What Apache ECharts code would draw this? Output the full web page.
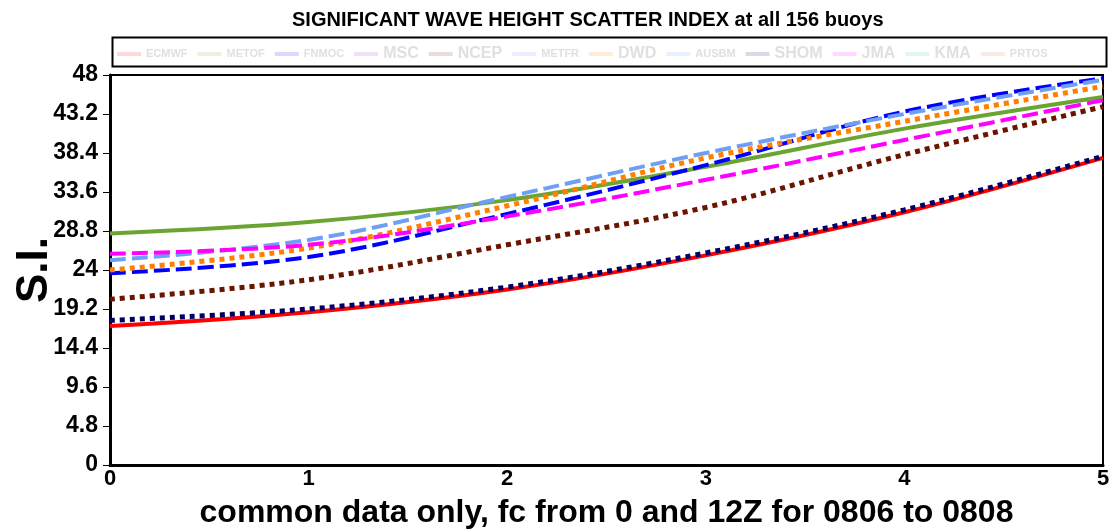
<!DOCTYPE html>
<html>
<head>
<meta charset="utf-8">
<script src="https://cdn.jsdelivr.net/npm/echarts@6/dist/echarts.min.js"></script>
<style>html,body{margin:0;padding:0;background:#fff}</style>
</head>
<body>
<div id="chart" style="width:1109px;height:532px"></div>
<script>
// forecast step (x) and scatter index per centre
const steps = [0, 1, 2, 3, 4, 5]
const ecmwf = [17.1, 18.8, 21.6, 25.8, 31.1, 37.8]
const metof = [28.5, 29.9, 32.6, 36.7, 41.4, 45.3]
const fnmoc = [23.6, 25.6, 30.9, 36.9, 43.5, 47.6]
const msc = []
const ncep = [20.4, 22.8, 27.1, 31.7, 38.2, 44.1]
const metfr = []
const dwd = [24.0, 26.7, 31.9, 37.8, 42.3, 46.6]
const ausbm = [25.2, 27.7, 33.0, 38.4, 43.2, 47.4]
const shom = [17.8, 19.2, 21.9, 26.1, 31.4, 38.0]
const jma = [26.0, 27.1, 30.6, 35.1, 40.0, 44.9]
const kma = []
const prtos = []

const bigNames = ['MSC', 'NCEP', 'DWD', 'SHOM', 'JMA', 'KMA']
const dot = [5, 5], dash = [16, 6]
const defs = [
  ['ECMWF', ecmwf, '#ff0000', 'solid', 4],
  ['METOF', metof, '#6aa534', 'solid', 4],
  ['FNMOC', fnmoc, '#0000ff', dash, 4],
  ['MSC', msc, '#9933cc', dash, 4],
  ['NCEP', ncep, '#6b1400', dot, 5],
  ['METFR', metfr, '#9977ff', dash, 4],
  ['DWD', dwd, '#ff8000', dot, 5],
  ['AUSBM', ausbm, '#6f9ef5', dash, 4],
  ['SHOM', shom, '#000066', dot, 5],
  ['JMA', jma, '#ff00ff', dash, 4],
  ['KMA', kma, '#33ccaa', dot, 5],
  ['PRTOS', prtos, '#cc7744', dash, 4]
]

const chart = echarts.init(document.getElementById('chart'))
chart.setOption({
  animation: false,
  title: {
    text: 'SIGNIFICANT WAVE HEIGHT SCATTER INDEX at all 156 buoys',
    left: 287, top: 5,
    textStyle: { fontFamily: 'Liberation Sans', fontWeight: 'bold', fontSize: 20, color: '#000' }
  },
  graphic: [{
    type: 'rect', left: 110, top: 35,
    shape: { width: 994, height: 29 },
    style: { fill: 'none', stroke: '#000', lineWidth: 2 }
  }],
  legend: {
    left: 112, top: 41, itemGap: 10, itemWidth: 24, itemHeight: 4, icon: 'rect',
    itemStyle: { opacity: 0.15 },
    formatter: n => bigNames.includes(n) ? `{b|${n}}` : `{s|${n}}`,
    textStyle: {
      color: '#e0e0e0', fontFamily: 'Liberation Sans', fontWeight: 'bold',
      rich: {
        b: { fontSize: 16, fontWeight: 'bold', color: '#e0e0e0', fontFamily: 'Liberation Sans' },
        s: { fontSize: 11, fontWeight: 'bold', color: '#e0e0e0', fontFamily: 'Liberation Sans' }
      }
    },
    data: defs.map(d => d[0])
  },
  grid: {
    left: 110, right: 6, top: 75, bottom: 67, outerBoundsMode: 'none',
    show: true, borderColor: '#000', borderWidth: 2
  },
  xAxis: {
    type: 'value', min: 0, max: 5, interval: 1,
    name: 'common data only, fc from 0 and 12Z for 0806 to 0808',
    nameLocation: 'middle', nameGap: 32, nameMoveOverlap: false,
    nameTextStyle: { fontFamily: 'Liberation Sans', fontWeight: 'bold', fontSize: 32, color: '#000' },
    axisLine: { lineStyle: { color: '#000', width: 3 } },
    axisTick: { show: false },
    splitLine: { show: false },
    axisLabel: { color: '#000', fontFamily: 'Liberation Sans', fontWeight: 'bold', fontSize: 22, margin: 3 }
  },
  yAxis: {
    type: 'value', min: 0, max: 48, interval: 4.8,
    name: 'S.I.', nameLocation: 'middle', nameGap: 53, nameRotate: 90, nameMoveOverlap: false,
    nameTextStyle: { fontFamily: 'Liberation Sans', fontWeight: 'bold', fontSize: 44, color: '#000' },
    axisLine: { lineStyle: { color: '#000', width: 3 } },
    axisTick: { show: true, length: 7, lineStyle: { color: '#000', width: 1 } },
    splitLine: { show: false },
    axisLabel: {
      color: '#000', fontFamily: 'Liberation Sans', fontWeight: 'bold', fontSize: 23, margin: 12,
      formatter: v => String(+v.toFixed(1))
    }
  },
  series: defs.map(([name, vals, color, type, width]) => ({
    name, type: 'line', symbol: 'none', smooth: 0.35,
    data: vals.map((v, i) => [steps[i], v]),
    itemStyle: { color },
    lineStyle: { color, type, width, cap: 'butt' }
  }))
})
</script>
</body>
</html>
